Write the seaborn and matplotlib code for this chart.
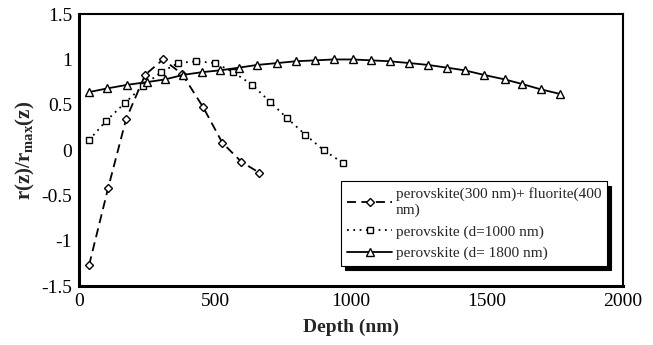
import numpy as np
import pandas as pd
import seaborn as sns
import matplotlib.pyplot as plt

# perovskite(300 nm) + fluorite(400 nm)
depth_pf = [37, 107, 173, 243, 309, 379, 457, 527, 597, 663]
r_pf = [-1.27, -0.42, 0.34, 0.83, 1.0, 0.84, 0.47, 0.08, -0.13, -0.25]

# perovskite d=1000 nm
depth_p1000 = [37, 99, 169, 236, 302, 365, 431, 501, 567, 637, 703, 766, 832, 899, 969]
r_p1000 = [0.11, 0.32, 0.52, 0.71, 0.86, 0.96, 0.98, 0.96, 0.86, 0.72, 0.53, 0.35, 0.17, 0.0, -0.14]

# perovskite d=1800 nm
depth_p1800 = [37, 103, 177, 250, 317, 383, 453, 519, 589, 656, 729, 796, 869,
               936, 1006, 1075, 1142, 1215, 1282, 1352, 1418, 1488, 1565, 1628, 1698, 1768]
r_p1800 = [0.64, 0.68, 0.72, 0.75, 0.78, 0.83, 0.86, 0.88, 0.91, 0.94, 0.96, 0.98, 0.99,
           1.0, 1.0, 0.99, 0.98, 0.96, 0.94, 0.91, 0.88, 0.83, 0.78, 0.73, 0.67, 0.62]

labels = ["perovskite(300 nm)+ fluorite(400\nnm)",
          "perovskite (d=1000 nm)",
          "perovskite (d= 1800 nm)"]

sns.set_style("white")
plt.rcParams["font.family"] = ["Liberation Serif", "DejaVu Serif"]
plt.rcParams["mathtext.fontset"] = "custom"
plt.rcParams["mathtext.bf"] = "Liberation Serif:bold"
plt.rcParams["mathtext.rm"] = "Liberation Serif"

fig = plt.figure(figsize=(6.53, 3.45), dpi=100)
ax = fig.add_axes([0.121, 0.171, 0.833, 0.788])

series = [
    (depth_pf, r_pf, labels[0], "D", (0, (5, 3)), 4.3),
    (depth_p1000, r_p1000, labels[1], "s", (0, (1, 2.5)), 5),
    (depth_p1800, r_p1800, labels[2], "^", "-", 5.2),
]
for x, y, lab, mk, ls, ms in series:
    df = pd.DataFrame({"depth": x, "r": y})
    sns.lineplot(data=df, x="depth", y="r", ax=ax, color="black", linewidth=1.3,
                 linestyle=ls, marker=mk, markersize=ms, markerfacecolor="white",
                 markeredgecolor="black", markeredgewidth=1.0, label=lab)

ax.set_xlim(0, 2000)
ax.set_ylim(-1.5, 1.5)
ax.set_xticks([0, 500, 1000, 1500, 2000])
ax.set_xticklabels(["0", "500", "1000", "1500", "2000"])
ax.set_yticks([-1.5, -1, -0.5, 0, 0.5, 1, 1.5])
ax.set_yticklabels(["-1.5", "-1", "-0.5", "0", "0.5", "1", "1.5"])
ax.tick_params(axis="both", direction="in", length=5, width=1.5, labelsize=14,
               colors="black", pad=5)
for s in ["left", "bottom"]:
    ax.spines[s].set_linewidth(2.2)
    ax.spines[s].set_color("black")
for s in ["top", "right"]:
    ax.spines[s].set_linewidth(1.5)
    ax.spines[s].set_color("black")

ax.set_xlabel("Depth (nm)", fontsize=14, fontweight="bold", labelpad=6)
ax.set_ylabel(r"$\mathbf{r(z)/r_{max}(z)}$", fontsize=15, labelpad=3)

leg = ax.legend(loc="lower right", bbox_to_anchor=(0.985, 0.045), fontsize=11,
                frameon=True, fancybox=False, framealpha=1,
                shadow={"color": "black", "alpha": 1, "ox": 3, "oy": -3},
                borderpad=0.4, labelspacing=0.5, handlelength=3.0, handletextpad=0.2)
leg.get_frame().set_edgecolor("black")
leg.get_frame().set_linewidth(0.8)

fig.savefig("out.png", dpi=100)
